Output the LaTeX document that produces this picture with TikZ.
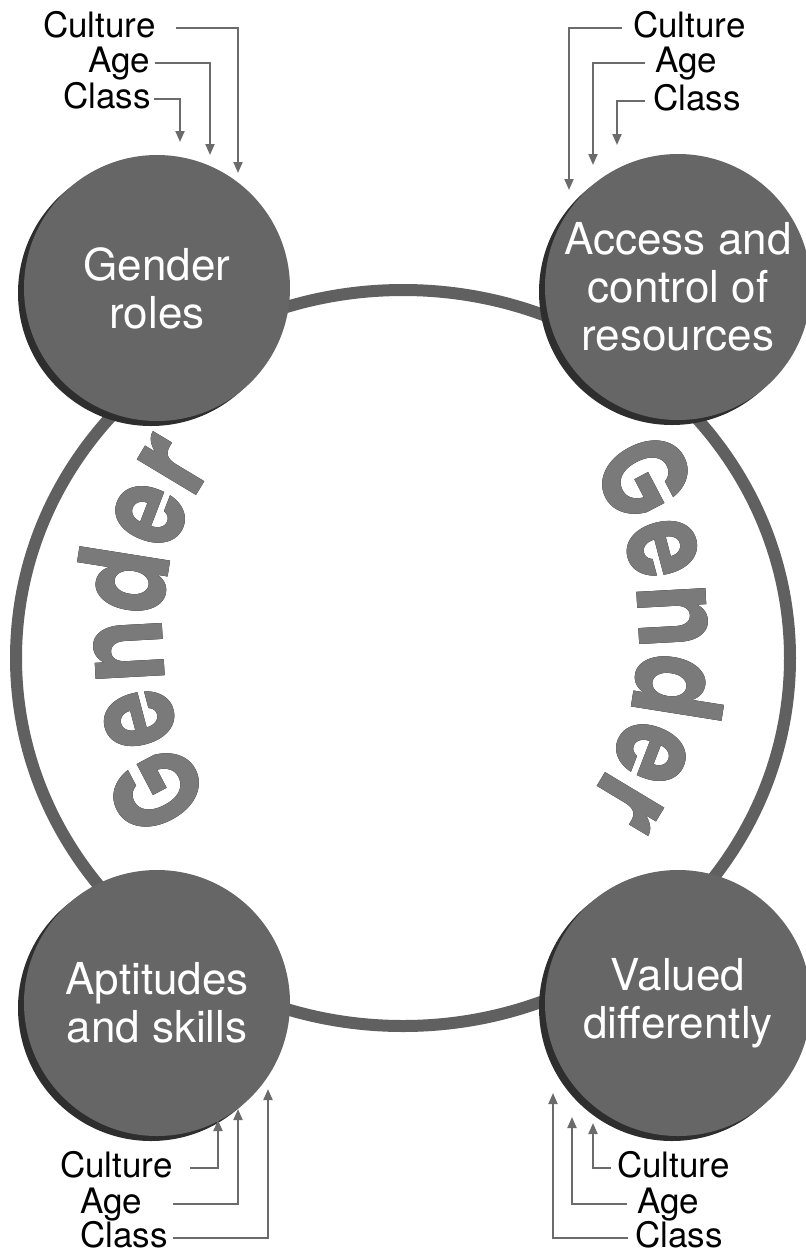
\documentclass[tikz,border=0pt]{standalone}
\usepackage{fontspec}
\setmainfont{TeX Gyre Heros}
\newfontfamily\bigfont{Poppins}[FakeStretch=0.76, LetterSpace=-6]
\usetikzlibrary{arrows.meta,shadows,decorations.text}

\definecolor{hubgray}{HTML}{666666}
\definecolor{ringgray}{HTML}{606060}
\definecolor{feedgray}{HTML}{6B6B6B}
\definecolor{wordgray}{HTML}{7A7A7A}
\definecolor{shadegray}{HTML}{2E2E2E}

\tikzset{
    hub/.style={circle, fill=hubgray, minimum size=266pt, inner sep=0pt, align=center, text=white,
        font=\fontsize{44}{48}\selectfont,
        drop shadow={shadow xshift=-6pt, shadow yshift=-5pt, fill=shadegray, opacity=1}},
    factor/.style={anchor=base west, inner sep=0pt, text height=18pt, text depth=0pt,
        font=\fontsize{35}{36}\selectfont},
    feed/.style={draw=feedgray, line width=2pt, -{Triangle[length=11pt, width=9pt]}},
    ring/.style={draw=ringgray, line width=12pt},
    word/.style={decorate, decoration={text along path, text align=center, text color=#1,
        text={|\bigfont\bfseries\fontsize{124}{124}\selectfont|Gender}}},
}

\begin{document}
\begin{tikzpicture}[x=1pt, y=-1pt]
    \useasboundingbox (0,0) rectangle (806,1254);

    % the ring behind everything
    \draw[ring] (403,658) ellipse [x radius=387, y radius=368];

    % curved words, shadow first
    \coordinate (mid) at (401,634);
    \path[word=black, xshift=-3pt, yshift=-2pt]
        ([shift={(120:238 and 268)}]mid) arc[start angle=120, end angle=240, x radius=238, y radius=268];
    \path[word=wordgray]
        ([shift={(120:238 and 268)}]mid) arc[start angle=120, end angle=240, x radius=238, y radius=268];
    \path[word=black, xshift=-3pt, yshift=-2pt]
        ([shift={(-60:238 and 268)}]mid) arc[start angle=-60, end angle=60, x radius=238, y radius=268];
    \path[word=wordgray]
        ([shift={(-60:238 and 268)}]mid) arc[start angle=-60, end angle=60, x radius=238, y radius=268];

    \node[hub] (roles) at (157,288) {Gender\\roles};
    \node[hub] (access) at (678,287) {Access and\\control of\\resources};
    \node[hub] (aptitudes) at (157,1003) {Aptitudes\\and skills};
    \node[hub] (valued) at (678,1003) {Valued\\differently};

    % top left
    \node[factor] (cultTL) at (43,37) {Culture};
    \node[factor] (ageTL) at (88,72) {Age};
    \node[factor] (classTL) at (63,108) {Class};
    \coordinate (tipTL1) at (238,173);
    \coordinate (tipTL2) at (210,155);
    \coordinate (tipTL3) at (180,142);
    \draw[feed] ([xshift=20pt]cultTL.east) -| (tipTL1);
    \draw[feed] ([xshift=5pt]ageTL.east) -| (tipTL2);
    \draw[feed] ([xshift=3pt]classTL.east) -| (tipTL3);

    % top right
    \node[factor] (cultTR) at (633,37) {Culture};
    \node[factor] (ageTR) at (655,72) {Age};
    \node[factor] (classTR) at (653,110) {Class};
    \coordinate (tipTR1) at (569,190);
    \coordinate (tipTR2) at (593,165);
    \coordinate (tipTR3) at (617,145);
    \draw[feed] ([xshift=-11pt]cultTR.west) -| (tipTR1);
    \draw[feed] ([xshift=-10pt]ageTR.west) -| (tipTR2);
    \draw[feed] ([xshift=-8pt]classTR.west) -| (tipTR3);

    % bottom left
    \node[factor] (cultBL) at (60,1177) {Culture};
    \node[factor] (ageBL) at (80,1213) {Age};
    \node[factor] (classBL) at (80,1247) {Class};
    \coordinate (tipBL1) at (218,1120);
    \coordinate (tipBL2) at (238,1109);
    \coordinate (tipBL3) at (268,1089);
    \draw[feed] ([xshift=17pt]cultBL.east) -| (tipBL1);
    \draw[feed] ([xshift=31pt]ageBL.east) -| (tipBL2);
    \draw[feed] ([xshift=5pt]classBL.east) -| (tipBL3);

    % bottom right
    \node[factor] (cultBR) at (617,1177) {Culture};
    \node[factor] (ageBR) at (637,1213) {Age};
    \node[factor] (classBR) at (635,1247) {Class};
    \coordinate (tipBR1) at (593,1123);
    \coordinate (tipBR2) at (572,1117);
    \coordinate (tipBR3) at (553,1093);
    \draw[feed] ([xshift=-6pt]cultBR.west) -| (tipBR1);
    \draw[feed] ([xshift=-10pt]ageBR.west) -| (tipBR2);
    \draw[feed] ([xshift=-7pt]classBR.west) -| (tipBR3);
\end{tikzpicture}
\end{document}
